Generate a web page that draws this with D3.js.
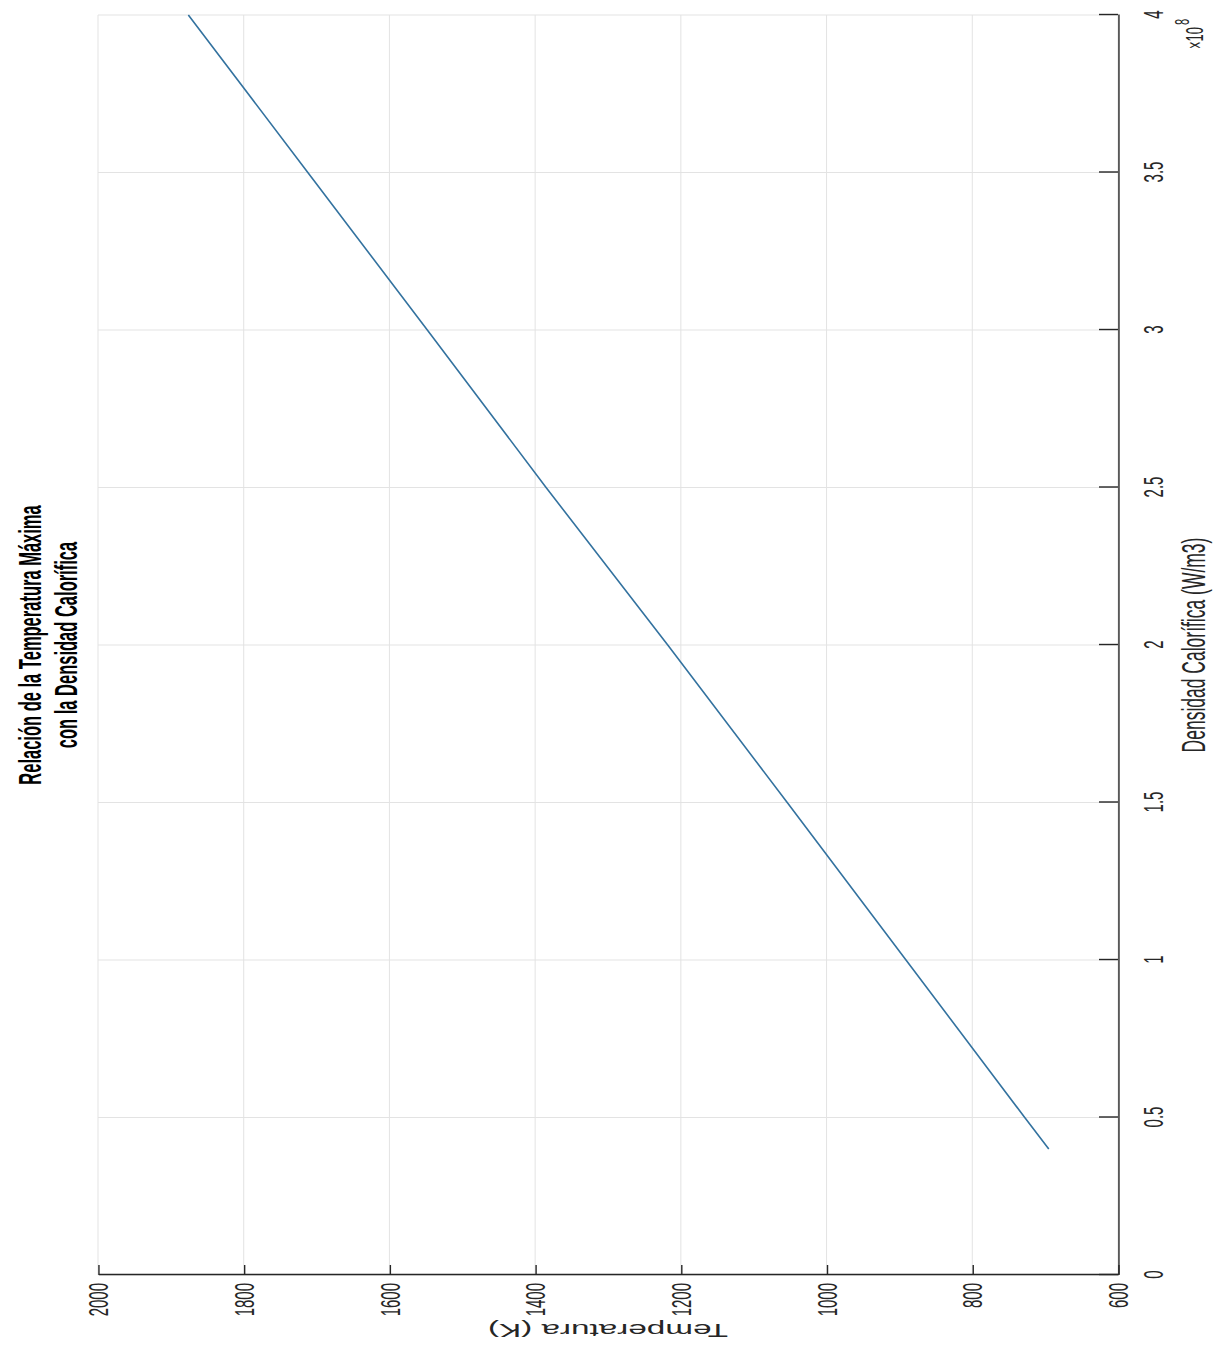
<!DOCTYPE html>
<html>
<head>
<meta charset="utf-8">
<script src="https://cdn.jsdelivr.net/npm/d3@7"></script>
<style>
  html, body { margin: 0; padding: 0; background: #fff; }
  svg { display: block; }
  .nss { vector-effect: non-scaling-stroke; }
</style>
</head>
<body>
<svg id="chart" width="1216" height="1347"></svg>
<script>
// Data (density in units of 1e8 W/m3, temperature in K)
const densidad = [0.4, 0.5, 1.0, 1.5, 2.0, 2.5, 3.0, 3.5, 4.0];
const temperatura = [695, 728, 891, 1054, 1218, 1385, 1548, 1712, 1876];
const xTicks = [0, 0.5, 1, 1.5, 2, 2.5, 3, 3.5, 4];
const yTicks = [600, 800, 1000, 1200, 1400, 1600, 1800, 2000];
const tituloLineas = ["Relación de la Temperatura Máxima", "con la Densidad Calorífica"];
const etiquetaX = "Densidad Calorífica (W/m3)";
const etiquetaY = "Temperatura (K)";

const W = 1347;          // inner (unrotated) width
const SX = 1.9;          // horizontal stretch of the rotated picture
const svg = d3.select("#chart");
// inner (u,v) -> screen (SX*v, W-u)
const g = svg.append("g").attr("transform", `matrix(0,-1,${SX},0,0,${W})`);

const x = d3.scaleLinear().domain([0, 4]).range([72, 1332]);
const y = d3.scaleLinear().domain([600, 2000]).range([1118 / SX, 98 / SX]);

const font = "'Liberation Sans', Arial, Helvetica, sans-serif";
const axCol = "#262626";
const gridCol = "#e3e3e3";

// grid
g.append("g").selectAll("line").data(xTicks).join("line")
  .attr("class", "nss")
  .attr("x1", d => x(d)).attr("x2", d => x(d))
  .attr("y1", y(600)).attr("y2", y(2000))
  .attr("stroke", gridCol).attr("stroke-width", 1);
g.append("g").selectAll("line").data(yTicks).join("line")
  .attr("class", "nss")
  .attr("x1", x(0)).attr("x2", x(4))
  .attr("y1", d => y(d)).attr("y2", d => y(d))
  .attr("stroke", gridCol).attr("stroke-width", 1);

// axes
const yAxis = g.append("g").attr("transform", `translate(${x(0)},0)`)
  .call(d3.axisLeft(y).tickValues(yTicks).tickSizeInner(-10).tickSizeOuter(0).tickPadding(8).tickFormat(d3.format("d")));
const xAxis = g.append("g").attr("transform", `translate(0,${y(600)})`)
  .call(d3.axisBottom(x).tickValues(xTicks).tickSizeInner(-10).tickSizeOuter(0).tickPadding(13).tickFormat(d3.format("~g")));
[xAxis, yAxis].forEach(a => {
  a.selectAll("path, line").attr("class", "nss").attr("stroke", axCol).attr("stroke-width", 1.4);
  a.selectAll("text").attr("fill", axCol).attr("font-family", font).attr("font-size", 15);
});

// data line
const line = d3.line().x((d, i) => x(densidad[i])).y(d => y(d));
g.append("path").datum(temperatura)
  .attr("class", "nss")
  .attr("d", line)
  .attr("fill", "none").attr("stroke", "#33729f").attr("stroke-width", 1.6);

// title
const cx = (x(0) + x(4)) / 2;
const tbase = [21.5, 40.5];
g.append("g").selectAll("text").data(tituloLineas).join("text")
  .attr("x", cx).attr("y", (d, i) => tbase[i])
  .attr("text-anchor", "middle")
  .attr("font-family", font).attr("font-weight", "bold").attr("font-size", 16.5)
  .attr("fill", "#000")
  .text(d => d);

// x label
g.append("text").attr("x", cx).attr("y", 634)
  .attr("text-anchor", "middle")
  .attr("font-family", font).attr("font-size", 17.5).attr("fill", axCol)
  .text(etiquetaX);

// exponent
const expo = g.append("text").attr("x", 1298).attr("y", 633)
  .attr("font-family", font).attr("font-size", 13).attr("fill", axCol);
expo.append("tspan").text("×10");
expo.append("tspan").attr("dx", 2).attr("dy", -7).attr("font-size", 11).text("8");

// y label
const cy = (y(600) + y(2000)) / 2;
g.append("text")
  .attr("transform", `translate(23,${cy}) rotate(-90)`)
  .attr("text-anchor", "middle")
  .attr("font-family", font).attr("font-size", 17.5).attr("fill", axCol)
  .text(etiquetaY);
</script>
</body>
</html>
